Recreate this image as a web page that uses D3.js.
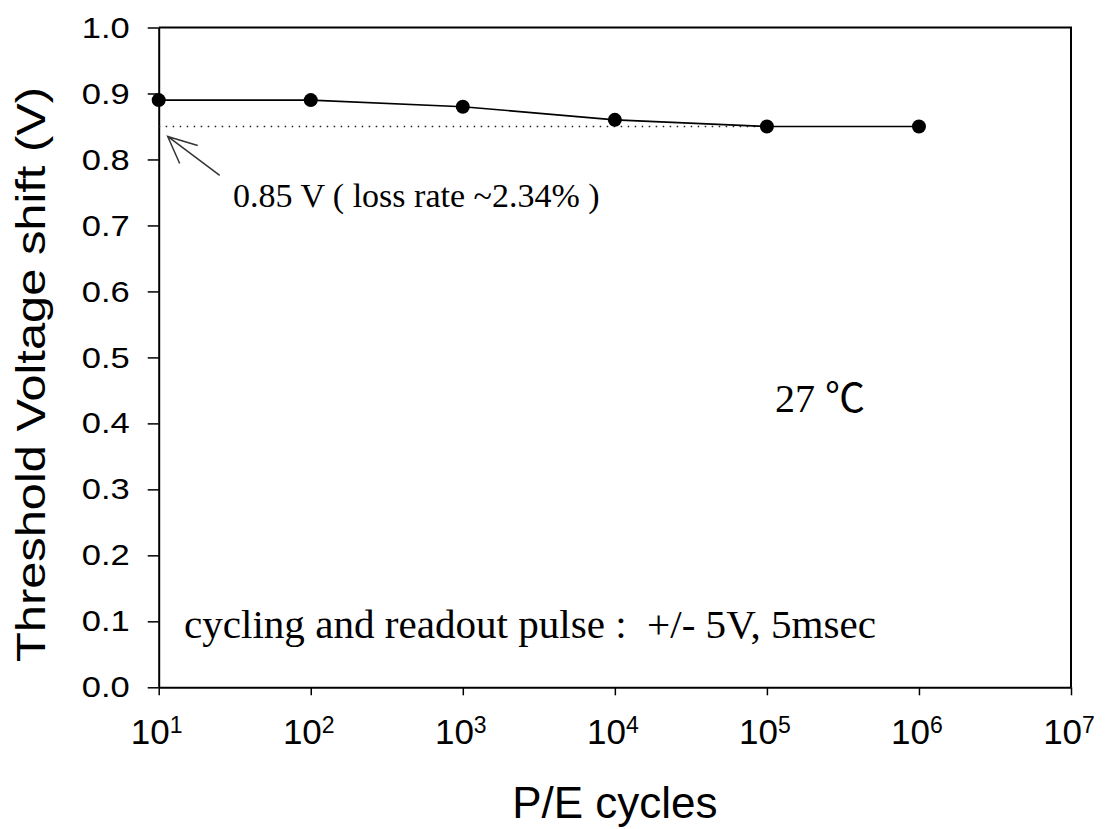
<!DOCTYPE html>
<html>
<head>
<meta charset="utf-8">
<script src="https://cdn.jsdelivr.net/npm/d3@7"></script>
<style>
  html, body { margin: 0; padding: 0; background: #fff; }
  svg { display: block; }
  text { white-space: pre; }
</style>
</head>
<body>
<svg id="chart" width="1107" height="829"></svg>
<script>
// P/E cycling endurance at 27 °C
const cycles = [1e1, 1e2, 1e3, 1e4, 1e5, 1e6];
const vtShift = [0.89, 0.89, 0.88, 0.86, 0.85, 0.85];
const xTickExponents = [1, 2, 3, 4, 5, 6, 7];
const yTickValues = [0, 0.1, 0.2, 0.3, 0.4, 0.5, 0.6, 0.7, 0.8, 0.9, 1.0];
const refLevel = 0.85;
const refLabel = "0.85 V ( loss rate ~2.34% )";
const tempLabel = "27 ℃";
const pulseLabel = "cycling and readout pulse :  +/- 5V, 5msec";
const xTitle = "P/E cycles";
const yTitle = "Threshold Voltage shift (V)";

const sans = "'Liberation Sans', Arial, sans-serif";
const serif = "'Liberation Serif', 'Times New Roman', serif";

const svg = d3.select("#chart");
const m = { left: 158.7, right: 1071, top: 27.5, bottom: 687.3 };

const x = d3.scaleLog().domain([1e1, 1e7]).range([m.left, m.right]);
const y = d3.scaleLinear().domain([0, 1]).range([m.bottom, m.top]);

// frame (top and right edges)
svg.append("path")
  .attr("d", `M${m.left},${m.top}H${m.right}V${m.bottom}`)
  .attr("fill", "none").attr("stroke", "#000").attr("stroke-width", 2);

// y axis
const yAxis = svg.append("g").attr("transform", `translate(${m.left},0)`)
  .call(d3.axisLeft(y).tickValues(yTickValues).tickFormat(d3.format(".1f")).tickSize(11).tickSizeOuter(0).tickPadding(18));
yAxis.select(".domain").attr("stroke-width", 2);
yAxis.selectAll(".tick line").attr("stroke-width", 1.5);
yAxis.selectAll(".tick text")
  .attr("font-family", sans).attr("font-size", 30).attr("fill", "#000")
  .attr("textLength", 48).attr("lengthAdjust", "spacingAndGlyphs");

// x axis
const xAxis = svg.append("g").attr("transform", `translate(0,${m.bottom})`)
  .call(d3.axisBottom(x).tickValues(xTickExponents.map(e => Math.pow(10, e))).tickFormat("").tickSize(8).tickSizeOuter(0));
xAxis.select(".domain").attr("stroke-width", 2);
xAxis.selectAll(".tick line").attr("stroke-width", 1.5);

// x tick labels as 10 with superscript exponent
const xl = svg.append("g").selectAll("text").data(xTickExponents).join("text")
  .attr("x", d => x(Math.pow(10, d)) - 2)
  .attr("y", 744)
  .attr("text-anchor", "middle")
  .attr("font-family", sans).attr("font-size", 35).attr("fill", "#000");
xl.append("tspan").text("10");
xl.append("tspan").attr("font-size", 23).attr("dy", -11).text(d => d);

// reference level (dotted)
svg.append("line")
  .attr("x1", x(1e1)).attr("x2", x(1e5))
  .attr("y1", y(refLevel)).attr("y2", y(refLevel))
  .attr("stroke", "#222").attr("stroke-width", 1.4).attr("stroke-dasharray", "1.5,5.5");

// data line and markers
const pts = cycles.map((c, i) => [c, vtShift[i]]);
svg.append("path")
  .datum(pts)
  .attr("d", d3.line().x(d => x(d[0])).y(d => y(d[1])))
  .attr("fill", "none").attr("stroke", "#000").attr("stroke-width", 1.6);
svg.append("g").selectAll("circle").data(pts).join("circle")
  .attr("cx", d => x(d[0])).attr("cy", d => y(d[1])).attr("r", 7).attr("fill", "#000");

// arrow pointing to the reference level
const tip = [x(1e1) + 9, y(refLevel) + 10];
svg.append("path")
  .attr("d", `M${tip[0] + 52},${tip[1] + 39}L${tip[0]},${tip[1]}M${tip[0] + 30},${tip[1] + 9}L${tip[0]},${tip[1]}L${tip[0] + 12},${tip[1] + 27}`)
  .attr("fill", "none").attr("stroke", "#333").attr("stroke-width", 1.5);

// annotations
svg.append("text").attr("x", 233).attr("y", 207)
  .attr("font-family", serif).attr("font-size", 34).attr("fill", "#000").text(refLabel);
svg.append("text").attr("x", 775).attr("y", 412)
  .attr("font-family", serif + ", 'Noto Sans CJK SC'").attr("font-size", 40).attr("fill", "#000").text(tempLabel);
svg.append("text").attr("x", 184).attr("y", 638)
  .attr("font-family", serif).attr("font-size", 40).attr("fill", "#000")
  .attr("textLength", 692).attr("lengthAdjust", "spacingAndGlyphs").text(pulseLabel);

// axis titles
svg.append("text").attr("x", (m.left + m.right) / 2).attr("y", 818)
  .attr("text-anchor", "middle").attr("font-family", sans).attr("font-size", 44).attr("fill", "#000").text(xTitle);
svg.append("text").attr("transform", `translate(45,${(87 + 662) / 2}) rotate(-90)`)
  .attr("text-anchor", "middle").attr("font-family", sans).attr("font-size", 41).attr("fill", "#000")
  .attr("textLength", 575).attr("lengthAdjust", "spacingAndGlyphs").text(yTitle);
</script>
</body>
</html>
